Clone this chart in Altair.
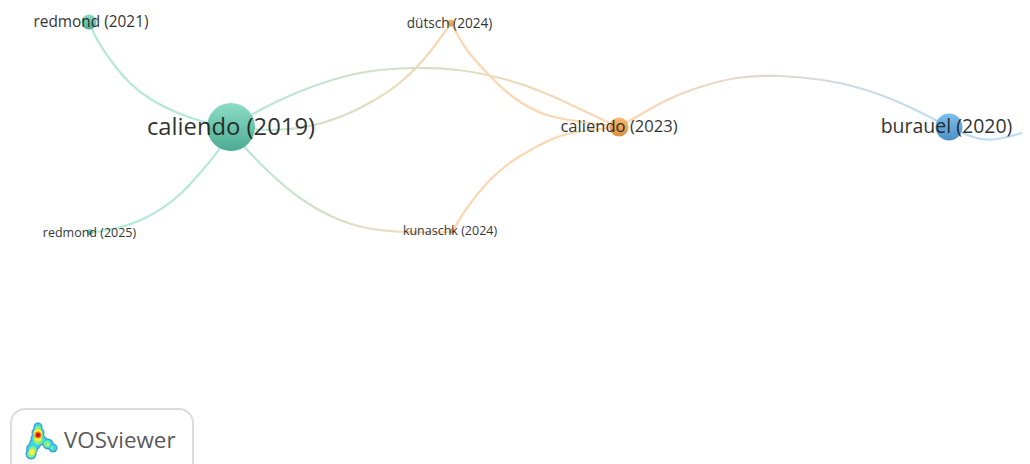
import altair as alt
import pandas as pd

# --- nodes (image pixels) ---
node_names = ["caliendo (2019)", "redmond (2021)", "redmond (2025)", "dütsch (2024)",
              "kunaschk (2024)", "caliendo (2023)", "burauel (2020)"]
node_x = [231, 89, 90, 451, 452, 619, 949]
node_y = [127, 22, 232, 23, 231, 127, 127]
node_d = [48, 15, 6, 7, 5, 19, 27]
node_cluster = ["teal", "teal", "teal", "orange", "orange", "orange", "blue"]
label_x = [231, 91, 89.5, 449.5, 450, 619, 946.5]
label_y = [128, 22, 232.5, 24, 231, 127, 127]
label_fs = [23.8, 15.4, 12.5, 13.6, 12.5, 16.6, 19.5]

# --- links ---
e1x = [89, 98, 112, 130, 152, 178, 205, 231]
e1y = [22, 41, 62, 83, 100, 113, 122, 127]
e2x = [231, 268, 305, 340, 373, 403, 429, 451]
e2y = [127, 130, 127, 117, 101, 80, 53, 23]
e3x = [231, 262, 296, 332, 372, 415, 458, 500, 540, 580, 618]
e3y = [127, 109, 93, 80, 71, 68, 70, 78, 91, 109, 127]
e4x = [451, 467, 487, 513, 547, 583, 618]
e4y = [23, 50, 73, 97, 115, 122, 127]
e5x = [452, 467, 490, 517, 550, 577, 618]
e5y = [232, 208, 180, 158, 140, 132, 127]
e6x = [231, 243, 270, 300, 333, 367, 407, 452]
e6y = [127, 145, 173, 198, 217, 228, 232, 232]
e7x = [88, 117, 147, 177, 200, 220, 231]
e7y = [233, 228, 217, 197, 173, 148, 127]
e8x = [619, 663, 697, 737, 780, 823, 863, 905, 949]
e8y = [127, 102, 88, 78, 76, 80, 89, 105, 127]
e9x = [949, 973, 997, 1030, 1045]
e9y = [127, 137, 139, 130, 122]

# --- logo blobs ---
logo_x = [38, 38, 38, 35, 32, 31, 44, 48, 53,
          38, 38, 38, 35, 32, 31, 44, 48, 53,
          38, 38, 38, 33, 31, 47, 52,
          38, 38, 32, 48,
          38, 38, 38]
logo_y = [427, 433, 439, 444, 449, 454, 441, 444, 448,
          427, 433, 439, 444, 449, 454, 441, 444, 448,
          429, 435, 440, 450, 454, 444, 448,
          433, 438, 452, 445,
          435, 435, 435]
logo_d = [9, 13, 15, 12, 12, 11, 8, 11, 9,
          6.5, 10.5, 12.5, 9.5, 9.5, 8.5, 5.5, 8.5, 6.5,
          6, 10, 9, 7, 7, 6, 3,
          8, 7, 6, 2,
          7, 5, 2]
logo_c = ["b"] * 9 + ["c"] * 9 + ["g"] * 7 + ["y"] * 4 + ["o", "r", "d"]

TEAL, ORANGE, BLUE = "#b4e8d8", "#fdd6b0", "#bcdcf6"
FILL = {"teal": ("#8ddcc4", "#4dab93"),
        "orange": ("#f6b873", "#dc923e"),
        "blue": ("#7fbfee", "#4b90c6")}
LOGO = {"b": "#3d9be0", "c": "#38d8e8", "g": "#8cf07a", "y": "#f8f03c", "o": "#f89020",
        "r": "#e82810", "d": "#a01008"}

X = alt.X("x:Q", scale=alt.Scale(domain=[8, 1022], nice=False, zero=False), axis=None)
Y = alt.Y("y:Q", scale=alt.Scale(domain=[464, 8], nice=False, zero=False), axis=None)


def link(xs, ys, left, right):
    df = pd.DataFrame({"x": xs, "y": ys, "i": range(len(xs))})
    grad = alt.Gradient(gradient="linear", x1=0, x2=1, y1=0, y2=0,
                        stops=[alt.GradientStop(color=left, offset=0),
                               alt.GradientStop(color=right, offset=1)])
    return alt.Chart(df).mark_line(interpolate="natural", strokeWidth=2.2, stroke=grad).encode(
        x=X, y=Y, order="i:Q")


links = [
    link(e1x, e1y, TEAL, TEAL),
    link(e2x, e2y, TEAL, ORANGE),
    link(e3x, e3y, TEAL, ORANGE),
    link(e4x, e4y, ORANGE, ORANGE),
    link(e5x, e5y, ORANGE, ORANGE),
    link(e6x, e6y, TEAL, ORANGE),
    link(e7x, e7y, TEAL, TEAL),
    link(e8x, e8y, ORANGE, BLUE),
    link(e9x, e9y, BLUE, BLUE),
]

nodes = pd.DataFrame({"x": node_x, "y": node_y, "d": node_d, "cluster": node_cluster,
                      "s": [d * d for d in node_d]})


def node_layer(cluster):
    top, bottom = FILL[cluster]
    grad = alt.Gradient(gradient="linear", x1=0, x2=0, y1=0, y2=1,
                        stops=[alt.GradientStop(color=top, offset=0),
                               alt.GradientStop(color=bottom, offset=1)])
    return alt.Chart(nodes[nodes.cluster == cluster]).mark_point(
        shape="circle", filled=True, fill=grad, opacity=1, strokeWidth=0
    ).encode(x=X, y=Y, size=alt.Size("s:Q", scale=None, legend=None))


labels = pd.DataFrame({"x": label_x, "y": label_y, "t": node_names, "fs": label_fs})
label_layer = alt.Chart(labels).mark_text(
    font="Open Sans", color="#1c1c1c", opacity=0.9, align="center", baseline="middle"
).encode(x=X, y=Y, text="t:N", size=alt.Size("fs:Q", scale=None, legend=None))

box = alt.Chart(pd.DataFrame({"x": [11], "x2": [193], "y": [409], "y2": [480]})).mark_rect(
    fill="white", stroke="#dcdcdc", strokeWidth=2, cornerRadius=14
).encode(x=X, x2="x2:Q", y=Y, y2="y2:Q")

brand = alt.Chart(pd.DataFrame({"x": [64], "y": [441], "t": ["VOSviewer"]})).mark_text(
    font="Open Sans", fontSize=22.4, color="#5a5a5a", align="left", baseline="middle"
).encode(x=X, y=Y, text="t:N")

logo_df = pd.DataFrame({"x": logo_x, "y": logo_y, "s": [d * d for d in logo_d], "c": logo_c,
                        "i": range(len(logo_x))})
logo = alt.Chart(logo_df).mark_point(shape="circle", filled=True, opacity=1, strokeWidth=0).encode(
    x=X, y=Y,
    size=alt.Size("s:Q", scale=None, legend=None),
    fill=alt.Fill("c:N", scale=alt.Scale(domain=list(LOGO), range=list(LOGO.values())), legend=None),
    order="i:Q",
)

chart = alt.layer(
    *links,
    node_layer("teal"), node_layer("orange"), node_layer("blue"),
    label_layer, box, brand, logo,
).properties(width=1014, height=456, padding=0,
             autosize=alt.AutoSizeParams(type="none"),
             background="white").configure_view(strokeWidth=0)

chart.save("out.html", embed_options={"renderer": "svg", "actions": False})
